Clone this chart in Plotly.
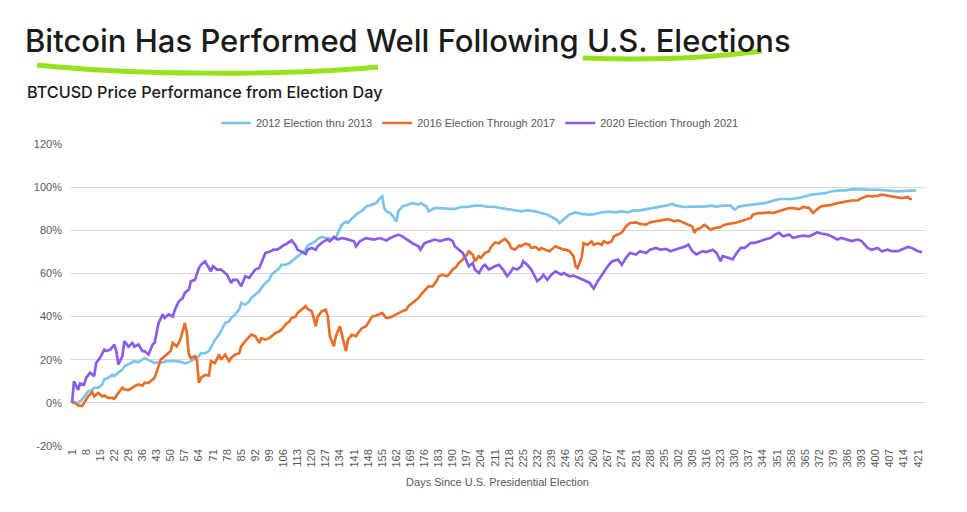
import plotly.graph_objects as go

# ---------------- data ----------------
series_names = ["2012 Election thru 2013", "2016 Election Through 2017", "2020 Election Through 2021"]

days_2012 = [1,4,6,8,9,11,12,14,16,17,19,21,22,24,26,27,29,31,32,34,36,37,39,41,42,44,46,48,51,53,56,57,59,60,62,64,65,67,69,70,72,74,75,77,79,80,82,84,85,87,89,90,92,94,95,97,99,100,102,104,105,107,109,110,112,113,115,117,118,120,122,123,125,127,128,130,132,133,135,137,138,140,142,143,145,147,150,152,154,155,156,157,159,161,162,163,165,168,170,173,174,177,178,181,184,188,191,194,197,201,204,207,211,214,217,221,224,227,231,234,237,240,242,243,245,248,251,254,258,261,264,268,271,274,277,280,283,286,290,293,296,299,301,305,308,311,315,318,321,324,328,330,332,335,339,342,345,348,352,355,358,362,365,368,372,375,378,382,385,388,392,395,398,401,405,408,411,415,417,420]
perf_2012 = [0,0,1.5,3.9,5.4,6,7,7,8.5,10.8,11.6,13,12.4,14,15.4,17,17.8,18.8,19.3,18.8,20,20.8,19.8,18.8,18.5,18.8,18.8,19.3,19.3,19.3,18.8,18.2,18.8,19.3,20.4,21.6,23,23,24,26,29.3,31.6,33.2,37,37.8,39.4,41,43.2,46.3,45.5,47,48.6,50.2,51.7,53.3,55.6,57,59.4,61,62.5,64,64,64.8,65.6,67.2,68,69.5,71,72.9,73.8,74.9,76,76.9,76.4,76.4,75.7,76.4,78.7,82.6,84,83.4,85.5,87,88,89,91,91.9,92.6,95,95.7,90.3,88.8,88,85.7,84,88.8,91,91.9,92.6,91.9,92.6,91,88.8,90.3,90.3,89.9,89.9,90.8,90.8,91.4,91.5,91,90.8,90.3,89.9,89.2,88.8,89.2,88.8,88,87.3,85.7,84.6,83.4,85,87.3,88.3,87.6,87.3,87.6,88.3,88.6,88.3,88.8,88.3,89.2,89.2,89.8,90.3,91,91.4,92.2,91.4,90.8,91,91,91,91.4,91,91.4,91.4,89.5,91,91.4,91.8,92.3,92.6,93.4,94.5,94.5,94.5,95,95.7,96.5,96.9,97.2,98,98.5,98.5,99,99,98.8,98.8,98.8,98.5,98,98,98.3,98.5,98.5]

days_2016 = [1,2,4,6,7,9,11,12,14,16,17,19,21,22,24,26,27,29,31,32,34,36,37,39,41,42,44,45,46,48,50,51,53,54,55,57,58,59,60,62,63,64,65,67,69,70,72,74,75,77,79,80,82,84,85,87,89,90,92,94,95,97,99,100,102,104,105,107,109,110,112,113,115,117,118,120,121,122,123,125,127,128,129,131,132,134,136,137,138,140,142,143,145,147,148,150,152,153,155,157,158,160,162,163,165,167,168,170,172,173,175,177,178,180,182,183,185,187,188,190,192,193,195,197,198,200,201,203,204,206,208,209,211,213,214,216,218,219,221,223,224,226,228,229,231,233,234,236,238,240,241,243,245,246,248,250,251,252,254,255,257,259,260,262,264,265,267,269,270,272,274,276,278,281,283,286,288,291,293,296,297,300,302,305,307,309,310,311,313,315,316,318,320,323,325,328,330,333,335,338,339,342,344,347,349,352,354,357,359,362,364,367,369,371,373,376,378,381,383,386,388,391,393,396,398,401,403,406,408,411,413,416,417,418]
perf_2016 = [0,0.3,-1.2,-1.5,0,3,5,3,4.6,3,3.4,2.3,2.3,1.9,4.6,7,6.2,5.9,7,7.7,8.5,8,9.3,9.3,10.8,11.6,17,20,20.8,22.4,24,27.8,26.2,27.8,30,37,32.4,22.4,20.8,21.6,20,9.3,11.6,13,12.7,19.3,18.5,22.4,20,22.4,19.3,20.8,22.4,23,26.2,28.6,30.9,31.6,30.9,27.8,30,29.3,30,30.9,32.4,33.2,34,36.3,37.8,39.4,40,41.7,43.2,44.8,43.5,42.5,39.4,35.5,40,42.5,43.2,40,30.9,26.2,30.9,35.5,27.8,24,29.3,31.6,30.9,32.4,34.7,35.5,37,40,40.5,41,41.7,39.4,39.4,40,41,41.7,42.5,43.2,44.8,46.3,47.9,48.6,51,53.3,54,54,56.4,58.7,59.4,58.7,59.4,61.8,63.3,64.8,66.4,68.7,70.3,68.7,65.6,68,67.2,69.5,70.3,72.3,74.4,74,74.9,76,74,71.8,71,72.9,72.6,73.8,73.3,71.8,72.3,71,71.8,71,70.3,71.8,72.6,71.8,71,71,70.3,68,63.3,62.5,67.2,74,73.3,74.9,73.3,74,73.3,74.9,74,74.9,77.2,78,79,81.8,83.4,83.7,83,82.6,83.7,84.2,84.6,84.9,85.2,84.2,84.6,83.4,82.6,81.8,78.8,80.3,81,82.6,81.8,80.3,81,81.5,82.6,83,83.4,84.2,84.9,85.7,87.2,88,88,88.3,88,88.8,89.5,90.3,90.3,89.8,90.8,90.3,88,89.8,91.1,91.4,91.8,92.6,92.9,93.4,93.8,93.8,94.9,96,95.7,96,96.5,96,95.7,95.4,94.9,95.4,94.5,94.5]

days_2020 = [1,2,4,5,7,8,10,12,13,15,17,18,20,22,23,24,26,27,29,31,32,34,36,37,39,41,42,44,46,47,49,51,52,54,56,57,59,60,62,64,65,67,68,70,71,73,75,76,78,80,81,83,85,87,89,90,92,94,95,97,99,101,103,104,106,108,110,112,113,115,117,118,120,122,123,126,128,129,131,133,135,137,139,141,142,144,147,151,154,157,159,162,163,165,168,170,173,174,176,179,181,184,186,188,190,191,193,195,196,198,200,201,203,205,206,208,211,213,215,217,219,220,222,224,225,227,229,230,232,234,235,237,239,241,244,245,248,250,253,255,258,260,262,264,267,269,272,274,276,278,281,283,286,288,291,293,296,298,300,303,305,307,309,311,314,316,319,321,323,324,327,329,331,333,335,338,340,343,345,348,350,352,354,357,359,362,364,367,369,371,373,376,378,381,383,386,388,391,393,396,398,401,403,406,408,411,413,416,418,421,423]
perf_2020 = [0,10,6,9,8.5,11.6,14,12.4,18.5,21,24.7,24,24.7,27,24,17.8,21.6,28.6,26,27.8,26,27,24,24,22.4,27,27.8,37,41,39.4,41,40,43,47,48.6,51,52.5,56.4,57,62.5,64,65.6,64,61,63.3,61.8,61.8,61,59.4,55.6,57,57,54,58.7,58,59.4,61.8,62.5,64.8,69.5,70,71,71,71.8,73,74,75.3,73,71,70,69,71,71.8,71,72.6,74.9,75.7,74.9,77,75.7,76.4,76,75.3,74.9,72.6,75,76.4,75.7,76.4,75.3,76.4,77.5,78,77.2,75.3,74,72.6,71,74,75,75.7,75,75.7,76,75,72.6,71,69.5,67.6,63.3,64.8,61.8,60.2,63.3,64,61.8,63.3,64,61.8,58.7,61,62.5,61.8,63.3,65.6,64,61.8,60.2,56.4,58,59.4,57,59.4,61,59.4,60.2,58.7,59,58,57,55.6,53,56.4,59.4,63.3,65.6,66.4,64,67.2,69.5,68.8,70.3,69.5,71,71.8,71,71.4,70.3,71,71.8,72.3,73.4,70.3,68.8,70.3,69.9,71,69.5,65.7,68,67.2,66.5,69.5,71.8,71.8,74.2,74.2,74.9,75.7,76.5,78,78.8,77.2,78,76.5,77.2,77.5,77.2,78,79,78.5,78,77.2,75.7,76.5,75.7,75,75.7,75,71.8,71,71.8,70.3,71,70.3,70.3,71,72.3,71.8,70.3,69.9]

series_days = [days_2012, days_2016, days_2020]
series_perf = [perf_2012, perf_2016, perf_2020]
series_colors = ["#7DC4EC", "#E86F2A", "#8B5CE6"]

y_tick_vals = [-20, 0, 20, 40, 60, 80, 100, 120]
y_tick_text = ["-20%", "0%", "20%", "40%", "60%", "80%", "100%", "120%"]
x_tick_vals = list(range(1, 422, 7))
x_tick_text = [str(v) for v in x_tick_vals]

title_text = "Bitcoin Has Performed Well Following U.S. Elections"
subtitle_text = "BTCUSD Price Performance from Election Day"
x_title = "Days Since U.S. Presidential Election"

# ---------------- layout geometry ----------------
# The page body has an 8px margin, so the figure sits at (8, 8) in the window.
OFF = 8
W, H = 967 - OFF, 512 - OFF
ML, MT = 70 - OFF, 144 - OFF
PW, PH = 855, 302
MR, MB = W - ML - PW, H - MT - PH

def px(x):  # window pixel x -> paper x
    return (x - OFF - ML) / PW

def py(y):  # window pixel y -> paper y
    return (H - MB - (y - OFF)) / PH

fig = go.Figure()
for name, d, v, c in zip(series_names, series_days, series_perf, series_colors):
    fig.add_trace(go.Scatter(x=d, y=v, mode="lines", name=name,
                             line=dict(color=c, width=2.7, shape="linear")))

axis_font = dict(family="Liberation Sans, Arial, sans-serif", size=11, color="#595959")

green = "#98E11F"
u1 = (f"M {px(37)},{py(65)} C {px(130)},{py(75)} {px(280)},{py(76)} {px(378)},{py(67)}")
u2 = (f"M {px(583)},{py(58)} Q {px(680)},{py(62)} {px(762)},{py(51)}")

fig.update_layout(
    width=W, height=H,
    margin=dict(l=ML, r=MR, t=MT, b=MB, autoexpand=False),
    paper_bgcolor="white", plot_bgcolor="white",
    title=dict(text=title_text, xref="container", yref="container",
               x=(25 - OFF) / W, xanchor="left", y=1 - (41 - OFF) / H, yanchor="middle",
               font=dict(family="Inter, Roboto, sans-serif", size=31, color="#1b1b1b", weight=500)),
    annotations=[dict(text=subtitle_text, xref="paper", yref="paper",
                      x=px(25), y=py(92), xanchor="left", yanchor="middle", showarrow=False,
                      font=dict(family="Inter, Roboto, sans-serif", size=16.2, color="#1b1b1b", weight=500))],
    shapes=[dict(type="path", path=u1, xref="paper", yref="paper", line=dict(color=green, width=5), layer="above"),
            dict(type="path", path=u2, xref="paper", yref="paper", line=dict(color=green, width=5), layer="above")],
    legend=dict(orientation="h", x=px(480), xanchor="center", y=py(123), yanchor="middle",
                font=axis_font, bgcolor="rgba(0,0,0,0)", itemwidth=30),
    xaxis=dict(range=[0, 424.5], tickmode="array", tickvals=x_tick_vals, ticktext=x_tick_text,
               tickangle=-90, tickfont=axis_font, showgrid=False, zeroline=False,
               showline=False, ticks="", automargin=False,
               title=dict(text=x_title, font=axis_font, standoff=11)),
    yaxis=dict(range=[-20, 120], tickmode="array", tickvals=y_tick_vals, ticktext=y_tick_text,
               tickfont=axis_font, showgrid=True, gridcolor="#D9D9D9", gridwidth=1,
               zeroline=False, showline=False, ticks="", automargin=False,
               ticklabelstandoff=7),
    showlegend=True,
)

fig.write_html("out.html")
